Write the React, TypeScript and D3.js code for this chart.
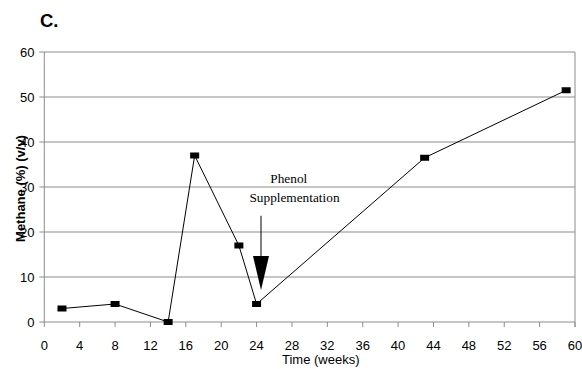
import React from "react";
import * as d3 from "d3";

// Methane content over time
const weeks = [2, 8, 14, 17, 22, 24, 43, 59];
const methane = [3, 4, 0, 37, 17, 4, 36.5, 51.5];
const xTicks = [0, 4, 8, 12, 16, 20, 24, 28, 32, 36, 40, 44, 48, 52, 56, 60];
const yTicks = [0, 10, 20, 30, 40, 50, 60];

// Phenol supplementation marker
const arrowWeek = 24.5;
const arrowTop = 23.6;
const arrowTip = 7.1;

const W = 582;
const H = 369;
const left = 44.3;
const right = 575;
const top = 52;
const bottom = 322;

export default function App() {
  const x = d3.scaleLinear().domain([0, 60]).range([left, right]);
  const y = d3.scaleLinear().domain([0, 60]).range([bottom, top]);
  const line = d3
    .line<number>()
    .x((_, i) => x(weeks[i]))
    .y((d) => y(d));

  const ax = x(arrowWeek);
  const tipY = y(arrowTip);
  const headH = 34;
  const headW = 8;

  const sans = "'Liberation Sans', Arial, sans-serif";
  const serif = "'Liberation Serif', 'Times New Roman', serif";
  const grid = "#8c8c8c";

  return (
    <svg
      width={W}
      height={H}
      style={{ position: "absolute", left: 0, top: 0, background: "#fff" }}
    >
      <text x={40} y={27} fontFamily={sans} fontWeight="bold" fontSize={18.5}>
        C.
      </text>

      {yTicks.map((t) => (
        <g key={"y" + t}>
          <line x1={left - 5} x2={right} y1={y(t)} y2={y(t)} stroke={grid} strokeWidth={1} />
          <text
            x={34.5}
            y={y(t) + 4.6}
            textAnchor="end"
            fontFamily={sans}
            fontSize={13}
            fill="#000"
          >
            {t}
          </text>
        </g>
      ))}

      <line x1={left} x2={left} y1={top} y2={bottom} stroke={grid} strokeWidth={1} />
      <line x1={right} x2={right} y1={top} y2={bottom + 5} stroke={grid} strokeWidth={1} />

      {xTicks.map((t) => (
        <g key={"x" + t}>
          <line x1={x(t)} x2={x(t)} y1={bottom} y2={bottom + 5} stroke={grid} strokeWidth={1} />
          <text
            x={x(t)}
            y={349.5}
            textAnchor="middle"
            fontFamily={sans}
            fontSize={13}
            fill="#000"
          >
            {t}
          </text>
        </g>
      ))}

      <text x={282} y={364} fontFamily={sans} fontSize={13}>
        Time (weeks)
      </text>

      <text
        transform={`translate(25,188.5) rotate(-90)`}
        textAnchor="middle"
        fontFamily={sans}
        fontWeight="bold"
        fontSize={13}
      >
        Methane (%) (v/v)
      </text>

      <path d={line(methane) || ""} fill="none" stroke="#000" strokeWidth={1} />
      {methane.map((v, i) => (
        <rect
          key={"m" + i}
          x={x(weeks[i]) - 4.5}
          y={y(v) - 3}
          width={9}
          height={6}
          fill="#000"
        />
      ))}

      <text x={288.8} y={183} textAnchor="middle" fontFamily={serif} fontSize={13.3}>
        Phenol
      </text>
      <text x={294.5} y={202} textAnchor="middle" fontFamily={serif} fontSize={13.3}>
        Supplementation
      </text>
      <line x1={ax} x2={ax} y1={y(arrowTop)} y2={tipY - headH + 2} stroke="#000" strokeWidth={1} />
      <path
        d={`M${ax - headW},${tipY - headH} L${ax + headW},${tipY - headH} L${ax},${tipY} Z`}
        fill="#000"
      />
    </svg>
  );
}
